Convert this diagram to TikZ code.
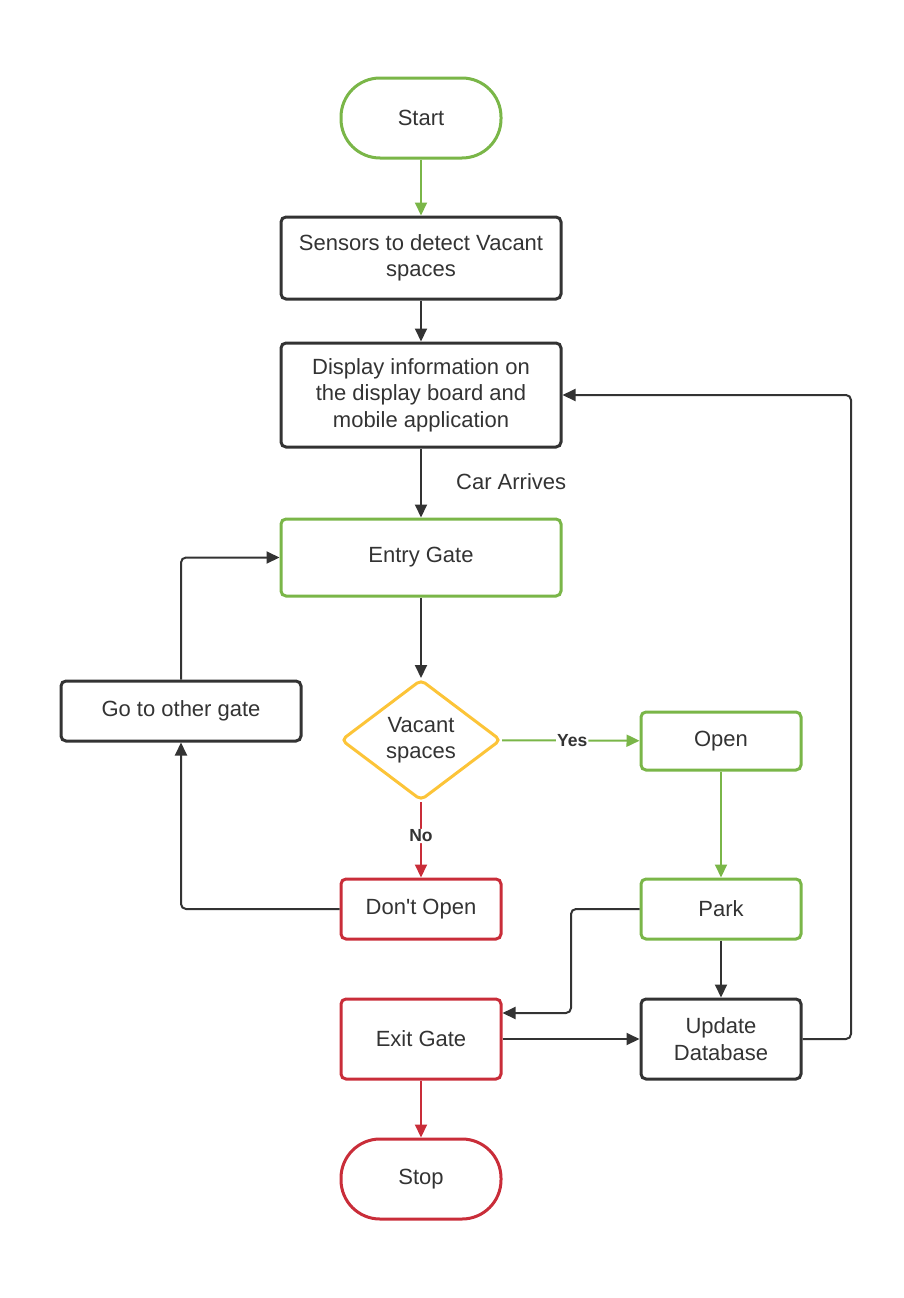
\documentclass[tikz,border=0pt]{standalone}
\usepackage{fontspec}
\setmainfont{Liberation Sans}
\usetikzlibrary{arrows.meta,shapes.geometric}
\definecolor{lgreen}{HTML}{7AB648}
\definecolor{ldark}{HTML}{333333}
\definecolor{lred}{HTML}{C92D39}
\definecolor{lyellow}{HTML}{FCC438}
\tikzset{
  box/.style={draw=ldark, line width=3pt, rounded corners=5pt, minimum width=280pt, align=center, text=ldark, font=\fontsize{22}{26.5}\selectfont, inner sep=0pt},
  smallbox/.style={box, minimum width=160pt, minimum height=58pt},
  term/.style={box, rounded corners=39pt, minimum width=160pt, minimum height=80pt},
  gbox/.style={draw=lgreen},
  rbox/.style={draw=lred},
  conn/.style={line width=2pt, draw=ldark, -{Triangle[length=13pt,width=12pt]}, rounded corners=5pt},
  gconn/.style={conn, draw=lgreen, -{Triangle[length=13pt,width=12pt,fill=lgreen]}},
  rconn/.style={conn, draw=lred, -{Triangle[length=13pt,width=12pt,fill=lred]}},
  lab/.style={font=\fontsize{17.5}{20}\bfseries\selectfont, text=ldark, fill=white, inner sep=1pt},
}
\begin{document}
\begin{tikzpicture}[x=1pt,y=-1pt]
\useasboundingbox (0,0) rectangle (903,1298);
\node[term, gbox] (start) at (421,118) {Start};
\node[box, minimum height=82pt] (sensors) at (421,258) {Sensors to detect Vacant\\spaces};
\node[box, minimum height=104pt] (display) at (421,395) {Display information on\\the display board and\\mobile application};
\node[box, gbox, minimum height=77pt] (entry) at (421,557.5) {Entry Gate};
\node[box, minimum width=240pt, minimum height=60pt] (goto) at (181,711) {Go to other gate};
\node[draw=lyellow, line width=3pt, diamond, rounded corners=5pt, minimum width=160pt, minimum height=121pt, inner sep=0pt, align=center, text=ldark, font=\fontsize{22}{26.5}\selectfont] (vac) at (421,740) {Vacant\\spaces};
\node[smallbox, gbox] (open) at (721,741) {Open};
\node[smallbox, rbox, minimum height=60pt] (dont) at (421,909) {Don\textquotesingle t Open};
\node[smallbox, gbox, minimum height=60pt] (park) at (721,909) {Park};
\node[smallbox, rbox, minimum height=80pt] (exit) at (421,1039) {Exit Gate};
\node[smallbox, minimum height=80pt] (update) at (721,1039) {Update\\Database};
\node[term, rbox] (stop) at (421,1179) {Stop};
\node[text=ldark, font=\fontsize{22}{26.5}\selectfont, anchor=west, inner sep=0pt] (car) at (456,482) {Car Arrives};
\coordinate (pk1) at (571,909);
\coordinate (up1) at (851,1039);

\draw[gconn] (start) -- (sensors);
\draw[conn] (sensors) -- (display);
\draw[conn] (display) -- (entry);
\draw[conn] (entry) -- (vac);
\draw[gconn] (vac) -- node[lab, pos=0.51] {Yes} (open);
\draw[rconn] (vac) -- node[lab, pos=0.45] {No} (dont);
\draw[gconn] (open) -- (park);
\draw[conn] (dont.west) -| (goto.south);
\draw[conn] (goto.north) |- (entry.west);
\draw[conn] (park.west) -- (pk1) |- ([yshift=26pt]exit.east);
\draw[conn] (park) -- (update);
\draw[conn] (exit) -- (update);
\draw[conn] (update.east) -- (up1) |- (display.east);
\draw[rconn] (exit) -- (stop);
\end{tikzpicture}
\end{document}
